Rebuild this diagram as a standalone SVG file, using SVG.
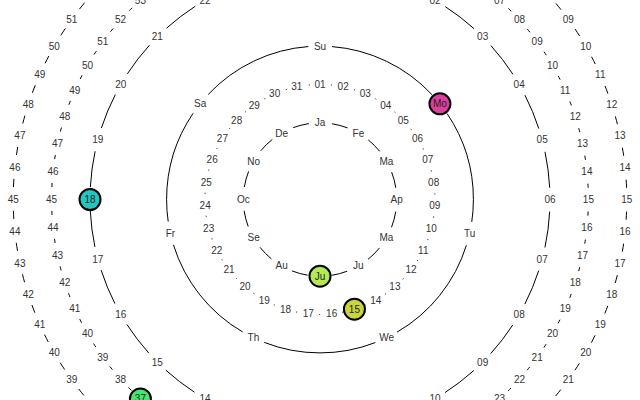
<svg xmlns="http://www.w3.org/2000/svg" width="640" height="400" viewBox="0 0 640 400">
<style>
text{font-family:"Liberation Sans",Arial,sans-serif;font-size:10px;fill:#333;text-anchor:middle;dominant-baseline:central}
.ring{fill:none;stroke:#000;stroke-width:1}
.hl circle{stroke:#000;stroke-width:2}
.hl text{fill:#222}
</style>
<rect width="640" height="400" fill="#fff"/>
<g transform="translate(320,199.5)">
<g id="connectors">
<circle class="ring" r="76.7" transform="rotate(-90)" stroke-dasharray="16.16 24" stroke-dashoffset="-12"/>
<circle class="ring" r="115" transform="rotate(-90)" stroke-dasharray="1.01 22.3" stroke-dashoffset="-11.15"/>
<circle class="ring" r="153.4" transform="rotate(-90)" stroke-dasharray="113.69 24" stroke-dashoffset="-12"/>
<circle class="ring" r="230" transform="rotate(-90)" stroke-dasharray="36.214 24" stroke-dashoffset="-12"/>
<circle class="ring" r="268.4" transform="rotate(-90)" stroke-dasharray="4.107 24" stroke-dashoffset="-12"/>
<circle class="ring" r="306.8" transform="rotate(-90)" stroke-dasharray="8.128 24" stroke-dashoffset="-12"/>
</g>
<g id="months">
<text transform="rotate(0) translate(0,-76.7) rotate(0)">Ja</text>
<text transform="rotate(30) translate(0,-76.7) rotate(-30)">Fe</text>
<text transform="rotate(60) translate(0,-76.7) rotate(-60)">Ma</text>
<text transform="rotate(90) translate(0,-76.7) rotate(-90)">Ap</text>
<text transform="rotate(120) translate(0,-76.7) rotate(-120)">Ma</text>
<text transform="rotate(150) translate(0,-76.7) rotate(-150)">Ju</text>
<text transform="rotate(210) translate(0,-76.7) rotate(-210)">Au</text>
<text transform="rotate(240) translate(0,-76.7) rotate(-240)">Se</text>
<text transform="rotate(270) translate(0,-76.7) rotate(-270)">Oc</text>
<text transform="rotate(300) translate(0,-76.7) rotate(-300)">No</text>
<text transform="rotate(330) translate(0,-76.7) rotate(-330)">De</text>
</g>
<g id="month-current" class="hl" transform="rotate(180) translate(0,-76.7) rotate(-180)"><circle r="10.5" fill="#b5e853"/><text>Ju</text></g>
<g id="days">
<text transform="rotate(0) translate(0,-115) rotate(0)">01</text>
<text transform="rotate(11.613) translate(0,-115) rotate(-11.613)">02</text>
<text transform="rotate(23.226) translate(0,-115) rotate(-23.226)">03</text>
<text transform="rotate(34.839) translate(0,-115) rotate(-34.839)">04</text>
<text transform="rotate(46.452) translate(0,-115) rotate(-46.452)">05</text>
<text transform="rotate(58.065) translate(0,-115) rotate(-58.065)">06</text>
<text transform="rotate(69.677) translate(0,-115) rotate(-69.677)">07</text>
<text transform="rotate(81.29) translate(0,-115) rotate(-81.29)">08</text>
<text transform="rotate(92.903) translate(0,-115) rotate(-92.903)">09</text>
<text transform="rotate(104.516) translate(0,-115) rotate(-104.516)">10</text>
<text transform="rotate(116.129) translate(0,-115) rotate(-116.129)">11</text>
<text transform="rotate(127.742) translate(0,-115) rotate(-127.742)">12</text>
<text transform="rotate(139.355) translate(0,-115) rotate(-139.355)">13</text>
<text transform="rotate(150.968) translate(0,-115) rotate(-150.968)">14</text>
<text transform="rotate(174.194) translate(0,-115) rotate(-174.194)">16</text>
<text transform="rotate(185.806) translate(0,-115) rotate(-185.806)">17</text>
<text transform="rotate(197.419) translate(0,-115) rotate(-197.419)">18</text>
<text transform="rotate(209.032) translate(0,-115) rotate(-209.032)">19</text>
<text transform="rotate(220.645) translate(0,-115) rotate(-220.645)">20</text>
<text transform="rotate(232.258) translate(0,-115) rotate(-232.258)">21</text>
<text transform="rotate(243.871) translate(0,-115) rotate(-243.871)">22</text>
<text transform="rotate(255.484) translate(0,-115) rotate(-255.484)">23</text>
<text transform="rotate(267.097) translate(0,-115) rotate(-267.097)">24</text>
<text transform="rotate(278.71) translate(0,-115) rotate(-278.71)">25</text>
<text transform="rotate(290.323) translate(0,-115) rotate(-290.323)">26</text>
<text transform="rotate(301.935) translate(0,-115) rotate(-301.935)">27</text>
<text transform="rotate(313.548) translate(0,-115) rotate(-313.548)">28</text>
<text transform="rotate(325.161) translate(0,-115) rotate(-325.161)">29</text>
<text transform="rotate(336.774) translate(0,-115) rotate(-336.774)">30</text>
<text transform="rotate(348.387) translate(0,-115) rotate(-348.387)">31</text>
</g>
<g id="day-current" class="hl" transform="rotate(162.581) translate(0,-115) rotate(-162.581)"><circle r="10.5" fill="#c8d63c"/><text>15</text></g>
<g id="weekdays">
<text transform="rotate(0) translate(0,-153.4) rotate(0)">Su</text>
<text transform="rotate(102.857) translate(0,-153.4) rotate(-102.857)">Tu</text>
<text transform="rotate(154.286) translate(0,-153.4) rotate(-154.286)">We</text>
<text transform="rotate(205.714) translate(0,-153.4) rotate(-205.714)">Th</text>
<text transform="rotate(257.143) translate(0,-153.4) rotate(-257.143)">Fr</text>
<text transform="rotate(308.571) translate(0,-153.4) rotate(-308.571)">Sa</text>
</g>
<g id="weekday-current" class="hl" transform="rotate(51.429) translate(0,-153.4) rotate(-51.429)"><circle r="10.5" fill="#dc409c"/><text>Mo</text></g>
<g id="hours">
<text transform="rotate(30) translate(0,-230) rotate(-30)">02</text>
<text transform="rotate(45) translate(0,-230) rotate(-45)">03</text>
<text transform="rotate(60) translate(0,-230) rotate(-60)">04</text>
<text transform="rotate(75) translate(0,-230) rotate(-75)">05</text>
<text transform="rotate(90) translate(0,-230) rotate(-90)">06</text>
<text transform="rotate(105) translate(0,-230) rotate(-105)">07</text>
<text transform="rotate(120) translate(0,-230) rotate(-120)">08</text>
<text transform="rotate(135) translate(0,-230) rotate(-135)">09</text>
<text transform="rotate(150) translate(0,-230) rotate(-150)">10</text>
<text transform="rotate(210) translate(0,-230) rotate(-210)">14</text>
<text transform="rotate(225) translate(0,-230) rotate(-225)">15</text>
<text transform="rotate(240) translate(0,-230) rotate(-240)">16</text>
<text transform="rotate(255) translate(0,-230) rotate(-255)">17</text>
<text transform="rotate(285) translate(0,-230) rotate(-285)">19</text>
<text transform="rotate(300) translate(0,-230) rotate(-300)">20</text>
<text transform="rotate(315) translate(0,-230) rotate(-315)">21</text>
<text transform="rotate(330) translate(0,-230) rotate(-330)">22</text>
</g>
<g id="hour-current" class="hl" transform="rotate(270) translate(0,-230) rotate(-270)"><circle r="10.5" fill="#22c6c0"/><text>18</text></g>
<g id="minutes">
<text transform="rotate(42) translate(0,-268.4) rotate(-42)">07</text>
<text transform="rotate(48) translate(0,-268.4) rotate(-48)">08</text>
<text transform="rotate(54) translate(0,-268.4) rotate(-54)">09</text>
<text transform="rotate(60) translate(0,-268.4) rotate(-60)">10</text>
<text transform="rotate(66) translate(0,-268.4) rotate(-66)">11</text>
<text transform="rotate(72) translate(0,-268.4) rotate(-72)">12</text>
<text transform="rotate(78) translate(0,-268.4) rotate(-78)">13</text>
<text transform="rotate(84) translate(0,-268.4) rotate(-84)">14</text>
<text transform="rotate(90) translate(0,-268.4) rotate(-90)">15</text>
<text transform="rotate(96) translate(0,-268.4) rotate(-96)">16</text>
<text transform="rotate(102) translate(0,-268.4) rotate(-102)">17</text>
<text transform="rotate(108) translate(0,-268.4) rotate(-108)">18</text>
<text transform="rotate(114) translate(0,-268.4) rotate(-114)">19</text>
<text transform="rotate(120) translate(0,-268.4) rotate(-120)">20</text>
<text transform="rotate(126) translate(0,-268.4) rotate(-126)">21</text>
<text transform="rotate(132) translate(0,-268.4) rotate(-132)">22</text>
<text transform="rotate(138) translate(0,-268.4) rotate(-138)">23</text>
<text transform="rotate(228) translate(0,-268.4) rotate(-228)">38</text>
<text transform="rotate(234) translate(0,-268.4) rotate(-234)">39</text>
<text transform="rotate(240) translate(0,-268.4) rotate(-240)">40</text>
<text transform="rotate(246) translate(0,-268.4) rotate(-246)">41</text>
<text transform="rotate(252) translate(0,-268.4) rotate(-252)">42</text>
<text transform="rotate(258) translate(0,-268.4) rotate(-258)">43</text>
<text transform="rotate(264) translate(0,-268.4) rotate(-264)">44</text>
<text transform="rotate(270) translate(0,-268.4) rotate(-270)">45</text>
<text transform="rotate(276) translate(0,-268.4) rotate(-276)">46</text>
<text transform="rotate(282) translate(0,-268.4) rotate(-282)">47</text>
<text transform="rotate(288) translate(0,-268.4) rotate(-288)">48</text>
<text transform="rotate(294) translate(0,-268.4) rotate(-294)">49</text>
<text transform="rotate(300) translate(0,-268.4) rotate(-300)">50</text>
<text transform="rotate(306) translate(0,-268.4) rotate(-306)">51</text>
<text transform="rotate(312) translate(0,-268.4) rotate(-312)">52</text>
<text transform="rotate(318) translate(0,-268.4) rotate(-318)">53</text>
</g>
<g id="minute-current" class="hl" transform="rotate(222) translate(0,-268.4) rotate(-222)"><circle r="10.5" fill="#44e870"/><text>37</text></g>
<g id="seconds">
<text transform="rotate(54) translate(0,-306.8) rotate(-54)">09</text>
<text transform="rotate(60) translate(0,-306.8) rotate(-60)">10</text>
<text transform="rotate(66) translate(0,-306.8) rotate(-66)">11</text>
<text transform="rotate(72) translate(0,-306.8) rotate(-72)">12</text>
<text transform="rotate(78) translate(0,-306.8) rotate(-78)">13</text>
<text transform="rotate(84) translate(0,-306.8) rotate(-84)">14</text>
<text transform="rotate(90) translate(0,-306.8) rotate(-90)">15</text>
<text transform="rotate(96) translate(0,-306.8) rotate(-96)">16</text>
<text transform="rotate(102) translate(0,-306.8) rotate(-102)">17</text>
<text transform="rotate(108) translate(0,-306.8) rotate(-108)">18</text>
<text transform="rotate(114) translate(0,-306.8) rotate(-114)">19</text>
<text transform="rotate(120) translate(0,-306.8) rotate(-120)">20</text>
<text transform="rotate(126) translate(0,-306.8) rotate(-126)">21</text>
<text transform="rotate(234) translate(0,-306.8) rotate(-234)">39</text>
<text transform="rotate(240) translate(0,-306.8) rotate(-240)">40</text>
<text transform="rotate(246) translate(0,-306.8) rotate(-246)">41</text>
<text transform="rotate(252) translate(0,-306.8) rotate(-252)">42</text>
<text transform="rotate(258) translate(0,-306.8) rotate(-258)">43</text>
<text transform="rotate(264) translate(0,-306.8) rotate(-264)">44</text>
<text transform="rotate(270) translate(0,-306.8) rotate(-270)">45</text>
<text transform="rotate(276) translate(0,-306.8) rotate(-276)">46</text>
<text transform="rotate(282) translate(0,-306.8) rotate(-282)">47</text>
<text transform="rotate(288) translate(0,-306.8) rotate(-288)">48</text>
<text transform="rotate(294) translate(0,-306.8) rotate(-294)">49</text>
<text transform="rotate(300) translate(0,-306.8) rotate(-300)">50</text>
<text transform="rotate(306) translate(0,-306.8) rotate(-306)">51</text>
</g>
</g>
</svg>
